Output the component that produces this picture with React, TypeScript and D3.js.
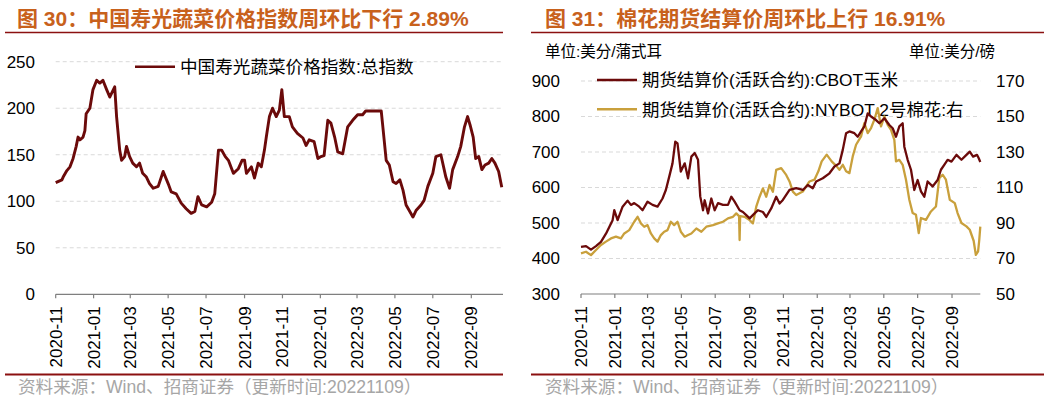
import React from "react";
import * as d3 from "d3";

// ---------- data ----------
const xTickLabels = ["2020-11","2021-01","2021-03","2021-05","2021-07","2021-09","2021-11","2022-01","2022-03","2022-05","2022-07","2022-09"];
const vegTicks = [0, 50, 100, 150, 200, 250];
const cornTicks = [300, 400, 500, 600, 700, 800, 900];
const cottonTicks = [50, 70, 90, 110, 130, 150, 170];

const vegDates = ["2020-11-01","2020-11-11","2020-11-13","2020-11-19","2020-11-24","2020-11-29","2020-12-04","2020-12-07","2020-12-10","2020-12-15","2020-12-18","2020-12-20","2020-12-26","2020-12-31","2021-01-06","2021-01-11","2021-01-16","2021-01-22","2021-01-27","2021-02-04","2021-02-07","2021-02-12","2021-02-15","2021-02-20","2021-02-23","2021-02-28","2021-03-05","2021-03-11","2021-03-16","2021-03-21","2021-03-27","2021-04-01","2021-04-07","2021-04-15","2021-04-23","2021-05-01","2021-05-06","2021-05-14","2021-05-22","2021-05-30","2021-06-07","2021-06-13","2021-06-18","2021-06-24","2021-07-02","2021-07-10","2021-07-15","2021-07-21","2021-07-26","2021-08-01","2021-08-06","2021-08-14","2021-08-22","2021-08-28","2021-09-01","2021-09-04","2021-09-12","2021-09-17","2021-09-23","2021-09-28","2021-10-03","2021-10-06","2021-10-11","2021-10-16","2021-10-22","2021-10-27","2021-10-31","2021-11-04","2021-11-12","2021-11-17","2021-11-25","2021-12-04","2021-12-09","2021-12-14","2021-12-22","2021-12-28","2022-01-02","2022-01-07","2022-01-13","2022-01-18","2022-01-24","2022-01-29","2022-02-06","2022-02-14","2022-02-22","2022-03-02","2022-03-10","2022-03-15","2022-04-09","2022-04-11","2022-04-17","2022-04-22","2022-04-28","2022-05-03","2022-05-09","2022-05-14","2022-05-19","2022-05-25","2022-05-30","2022-06-04","2022-06-12","2022-06-17","2022-06-23","2022-07-01","2022-07-06","2022-07-14","2022-07-22","2022-07-28","2022-08-02","2022-08-10","2022-08-15","2022-08-21","2022-08-26","2022-08-30","2022-09-04","2022-09-08","2022-09-13","2022-09-18","2022-09-23","2022-09-29","2022-10-04","2022-10-09","2022-10-15","2022-10-20"];
const vegValues = [120,123,126,133,137,146,159,169,166,169,176,194,200,220,230,227,230,220,212,223,191,155,144,148,159,148,141,137,141,130,126,119,114,116,132,119,110,108,98,92,87,89,105,96,94,99,108,155,155,148,144,130,135,144,144,130,137,125,141,137,155,169,191,200,191,198,220,191,191,180,173,168,160,166,164,146,148,149,187,184,169,153,151,180,187,193,193,197,197,184,144,139,121,119,123,112,96,89,83,90,96,101,116,130,148,150,126,114,134,148,159,180,191,182,169,146,148,134,139,141,146,141,132,115];

const cornDates = ["2020-11-01","2020-11-10","2020-11-19","2020-11-28","2020-12-07","2020-12-16","2020-12-22","2020-12-28","2020-12-31","2021-01-06","2021-01-15","2021-01-24","2021-01-30","2021-02-05","2021-02-14","2021-02-20","2021-03-01","2021-03-10","2021-03-19","2021-03-28","2021-04-03","2021-04-09","2021-04-15","2021-04-20","2021-04-24","2021-04-30","2021-05-07","2021-05-13","2021-05-19","2021-05-25","2021-05-31","2021-06-04","2021-06-09","2021-06-12","2021-06-18","2021-06-24","2021-06-30","2021-07-06","2021-07-15","2021-07-24","2021-07-30","2021-08-05","2021-08-14","2021-08-20","2021-08-26","2021-09-01","2021-09-10","2021-09-16","2021-09-25","2021-10-01","2021-10-10","2021-10-19","2021-10-25","2021-10-31","2021-11-12","2021-11-24","2021-12-06","2021-12-15","2021-12-24","2021-12-30","2022-01-11","2022-01-23","2022-02-01","2022-02-10","2022-02-16","2022-02-22","2022-02-28","2022-03-09","2022-03-15","2022-03-21","2022-03-27","2022-04-02","2022-04-08","2022-04-17","2022-04-23","2022-05-02","2022-05-11","2022-05-17","2022-05-23","2022-05-29","2022-06-04","2022-06-07","2022-06-13","2022-06-19","2022-06-25","2022-07-01","2022-07-07","2022-07-13","2022-07-19","2022-07-28","2022-08-06","2022-08-12","2022-08-18","2022-08-24","2022-08-31","2022-09-09","2022-09-18","2022-09-27","2022-10-03","2022-10-09","2022-10-16","2022-10-19","2022-10-22"];
const cornValues = [433,435,425,435,447,470,489,508,536,508,546,563,551,556,546,536,560,551,546,569,593,630,668,729,724,645,668,626,687,697,678,575,536,564,527,569,536,556,551,551,574,560,536,531,522,513,527,536,531,517,541,574,555,565,593,598,593,607,598,617,626,640,659,668,706,753,758,753,743,758,772,809,800,790,781,795,776,767,743,772,781,715,678,650,593,621,589,574,617,603,621,650,664,678,673,692,678,692,701,687,692,683,672];

const cottonDates = ["2020-11-01","2020-11-10","2020-11-19","2020-11-28","2020-12-07","2020-12-16","2020-12-25","2021-01-03","2021-01-12","2021-01-18","2021-01-27","2021-02-05","2021-02-11","2021-02-17","2021-02-23","2021-03-01","2021-03-07","2021-03-13","2021-03-19","2021-03-25","2021-03-31","2021-04-06","2021-04-12","2021-04-18","2021-04-24","2021-04-30","2021-05-07","2021-05-13","2021-05-19","2021-05-28","2021-06-06","2021-06-15","2021-06-27","2021-07-06","2021-07-15","2021-07-24","2021-08-02","2021-08-08","2021-08-13","2021-08-14","2021-08-15","2021-08-23","2021-09-01","2021-09-07","2021-09-13","2021-09-19","2021-09-25","2021-10-01","2021-10-07","2021-10-13","2021-10-19","2021-10-28","2021-11-06","2021-11-12","2021-11-18","2021-11-24","2021-12-06","2021-12-18","2021-12-27","2022-01-03","2022-01-09","2022-01-18","2022-01-27","2022-02-05","2022-02-10","2022-02-16","2022-02-22","2022-02-28","2022-03-06","2022-03-12","2022-03-21","2022-03-27","2022-04-02","2022-04-08","2022-04-14","2022-04-20","2022-04-26","2022-05-02","2022-05-08","2022-05-14","2022-05-20","2022-05-23","2022-05-29","2022-06-04","2022-06-10","2022-06-16","2022-06-22","2022-06-28","2022-07-03","2022-07-07","2022-07-16","2022-07-25","2022-08-03","2022-08-09","2022-08-15","2022-08-21","2022-08-28","2022-09-06","2022-09-11","2022-09-18","2022-09-27","2022-10-03","2022-10-10","2022-10-14","2022-10-18","2022-10-20","2022-10-22"];
const cottonValues = [72.9,73.8,71.9,74.8,77.6,79.5,81.3,82.3,81.3,84.1,86,90.7,93.5,89.8,87.9,88.8,84.1,81.3,79.5,83.2,85.1,86,90.7,88.8,90.7,85.1,82.3,83.2,84.1,86.9,85.1,87.9,88.8,89.8,90.7,92.6,93.5,95.4,93.9,80.4,93.9,93.5,91.6,89.8,99.2,104.8,109.5,104.8,111.4,107.6,119.9,120.9,117.1,113.4,107.7,105.8,107.7,113.4,114.4,119.1,124.7,128.5,124.7,121.9,120,122.8,119.1,118.1,127.5,134.1,138.8,146.3,140.6,143.5,148.2,154.7,144.4,150,145.3,142.5,136.8,124.7,125.6,122.8,114.4,103.1,95.6,94.6,84.3,92.8,91.8,96.5,99.3,115.3,117.2,114.4,103.1,101.2,95.6,90,88.1,86.2,80,72,74,80,88];

// ---------- styles ----------
const LATIN = "'Liberation Sans', Arial, 'Noto Sans CJK SC', sans-serif";
const DARK_RED = "#6B0A0A";
const GOLD = "#C9A03C";
const RULE = "#8B1010";
const TITLE_C = "#C8611C";
const GRID = "#D9D9D9";
const AXIS = "#7F7F7F";

const parse = d3.timeParse("%Y-%m-%d");
const xDomain = [parse("2020-11-01")!, parse("2022-10-22")!];

function XAxis({ x, y }: { x: d3.ScaleTime<number, number>; y: number }) {
  const [r0, r1] = x.range();
  return (
    <g>
      <line x1={r0} x2={r1} y1={y} y2={y} stroke={AXIS} strokeWidth={1.2} />
      {xTickLabels.map((t) => {
        const px = x(parse(t + "-01")!);
        return (
          <g key={t}>
            <line x1={px} x2={px} y1={y} y2={y + 4} stroke={AXIS} strokeWidth={1.2} />
            <text
              transform={`translate(${px},${y + 12}) rotate(-90)`}
              textAnchor="end"
              dy="0.35em"
              fontSize={17}
              fontFamily={LATIN}
              fill="#000"
            >
              {t}
            </text>
          </g>
        );
      })}
    </g>
  );
}

export default function App() {
  // left panel
  const xL = d3.scaleTime().domain(xDomain).range([55.7, 503]);
  const yL = d3.scaleLinear().domain([0, 250]).range([294.3, 61.7]);
  const vegLine = d3
    .line<number>()
    .x((_, i) => xL(parse(vegDates[i])!))
    .y((v) => yL(v));

  // right panel
  const xR = d3.scaleTime().domain(xDomain).range([581, 980.3]);
  const yR1 = d3.scaleLinear().domain([300, 900]).range([294, 81]);
  const yR2 = d3.scaleLinear().domain([50, 170]).range([294, 81]);
  const cornLine = d3
    .line<number>()
    .x((_, i) => xR(parse(cornDates[i])!))
    .y((v) => yR1(v));
  const cottonLine = d3
    .line<number>()
    .x((_, i) => xR(parse(cottonDates[i])!))
    .y((v) => yR2(v));

  return (
    <svg
      width={1054}
      height={402}
      style={{ position: "absolute", left: 0, top: 0, background: "#fff" }}
      fontFamily={LATIN}
    >
      <rect width={1054} height={402} fill="#fff" />
      {/* ===== Left panel ===== */}
      <text x={17} y={26} fontSize={21} fontWeight="bold" fill={TITLE_C} fontFamily={LATIN}>
        图 30：中国寿光蔬菜价格指数周环比下行 2.89%
      </text>
      <line x1={5} x2={503} y1={32.5} y2={32.5} stroke={RULE} strokeWidth={1.5} />

      {vegTicks.map((t) => (
        <g key={t}>
          {t > 0 && (
            <line x1={55.7} x2={503} y1={yL(t)} y2={yL(t)} stroke={GRID} strokeWidth={1} strokeDasharray="4,3" />
          )}
          <text x={35} y={yL(t)} dy="0.35em" textAnchor="end" fontSize={17} fill="#000">
            {t}
          </text>
        </g>
      ))}
      <XAxis x={xL} y={294.3} />

      <line x1={135} x2={175} y1={66.7} y2={66.7} stroke={DARK_RED} strokeWidth={2.6} />
      <text x={180} y={66.7} dy="0.36em" fontSize={17.6} fill="#000">
        中国寿光蔬菜价格指数:总指数
      </text>

      <path d={vegLine(vegValues) || ""} fill="none" stroke={DARK_RED} strokeWidth={2.9} strokeLinejoin="round" />

      <line x1={5} x2={503} y1={374.5} y2={374.5} stroke={RULE} strokeWidth={2} />
      <text x={18} y={393} fontSize={17.6} fill="#A6A6A6">
        资料来源：Wind、招商证券（更新时间:20221109）
      </text>

      {/* ===== Right panel ===== */}
      <text x={545} y={26} fontSize={21} fontWeight="bold" fill={TITLE_C}>
        图 31：棉花期货结算价周环比上行 16.91%
      </text>
      <line x1={531} x2={1044} y1={32.5} y2={32.5} stroke={RULE} strokeWidth={1.5} />

      <text x={545} y={52} dy="0.35em" fontSize={15.5} fill="#000">
        单位:美分/蒲式耳
      </text>
      <text x={909} y={52} dy="0.35em" fontSize={15.5} fill="#000">
        单位:美分/磅
      </text>

      {cornTicks.map((t) => (
        <g key={t}>
          {t > 300 && (
            <line x1={581} x2={980.3} y1={yR1(t)} y2={yR1(t)} stroke={GRID} strokeWidth={1} strokeDasharray="4,3" />
          )}
          <text x={560} y={yR1(t)} dy="0.35em" textAnchor="end" fontSize={17} fill="#000">
            {t}
          </text>
        </g>
      ))}
      {cottonTicks.map((t) => (
        <text key={t} x={996} y={yR2(t)} dy="0.35em" textAnchor="start" fontSize={17} fill="#000">
          {t}
        </text>
      ))}
      <XAxis x={xR} y={294} />

      <line x1={597} x2={637} y1={80} y2={80} stroke={DARK_RED} strokeWidth={2.6} />
      <text x={642} y={80} dy="0.36em" fontSize={17.4} fill="#000">
        期货结算价(活跃合约):CBOT玉米
      </text>
      <line x1={597} x2={637} y1={109.3} y2={109.3} stroke={GOLD} strokeWidth={2.6} />
      <text x={642} y={109.3} dy="0.36em" fontSize={17.4} fill="#000">
        期货结算价(活跃合约):NYBOT 2号棉花:右
      </text>

      <path d={cottonLine(cottonValues) || ""} fill="none" stroke={GOLD} strokeWidth={2.3} strokeLinejoin="round" />
      <path d={cornLine(cornValues) || ""} fill="none" stroke={DARK_RED} strokeWidth={2.3} strokeLinejoin="round" />

      <line x1={531} x2={1044} y1={374.5} y2={374.5} stroke={RULE} strokeWidth={2} />
      <text x={545} y={393} fontSize={17.6} fill="#A6A6A6">
        资料来源：Wind、招商证券（更新时间:20221109）
      </text>
    </svg>
  );
}
